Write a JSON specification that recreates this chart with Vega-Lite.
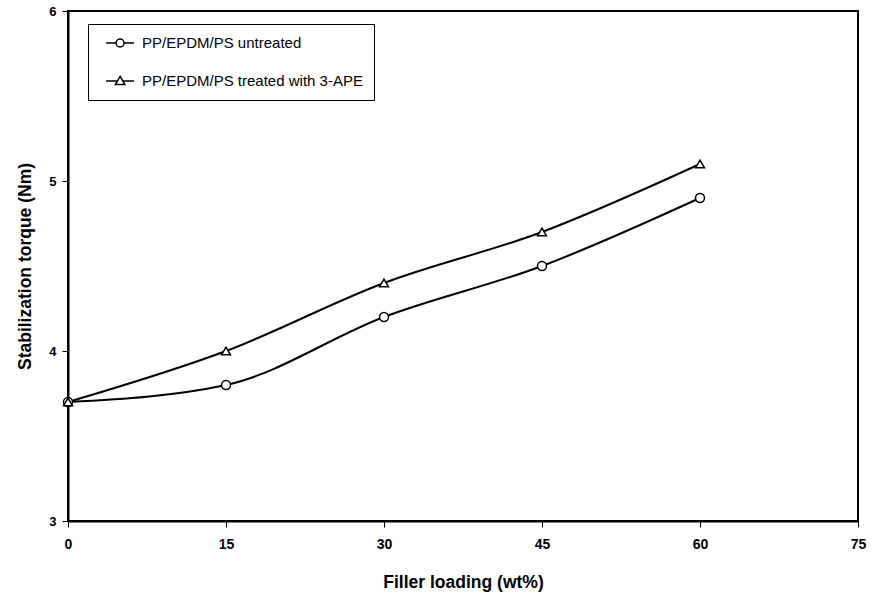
{
  "$schema": "https://vega.github.io/schema/vega-lite/v6.json",
  "autosize": "none",
  "width": 790,
  "height": 510,
  "padding": {"left": 68, "top": 11, "right": 15, "bottom": 71},
  "background": "white",
  "config": {
    "font": "Liberation Sans",
    "view": {"stroke": "black", "strokeWidth": 2},
    "axis": {
      "grid": false,
      "domainColor": "black",
      "domainWidth": 2,
      "tickColor": "black",
      "tickWidth": 1,
      "tickSize": 6,
      "labelFlush": false,
      "labelFont": "Liberation Sans",
      "labelFontWeight": "bold",
      "labelColor": "black",
      "titleFont": "Liberation Sans",
      "titleFontWeight": "bold",
      "titleFontSize": 17.5,
      "titleColor": "black"
    }
  },
  "data": {
    "values": [
      {"series": "PP/EPDM/PS untreated", "loading": 0, "torque": 3.7},
      {"series": "PP/EPDM/PS untreated", "loading": 15, "torque": 3.8},
      {"series": "PP/EPDM/PS untreated", "loading": 30, "torque": 4.2},
      {"series": "PP/EPDM/PS untreated", "loading": 45, "torque": 4.5},
      {"series": "PP/EPDM/PS untreated", "loading": 60, "torque": 4.9},
      {"series": "PP/EPDM/PS treated with 3-APE", "loading": 0, "torque": 3.7},
      {"series": "PP/EPDM/PS treated with 3-APE", "loading": 15, "torque": 4.0},
      {"series": "PP/EPDM/PS treated with 3-APE", "loading": 30, "torque": 4.4},
      {"series": "PP/EPDM/PS treated with 3-APE", "loading": 45, "torque": 4.7},
      {"series": "PP/EPDM/PS treated with 3-APE", "loading": 60, "torque": 5.1}
    ]
  },
  "encoding": {
    "x": {
      "field": "loading",
      "type": "quantitative",
      "scale": {"domain": [0, 75], "nice": false, "zero": false},
      "axis": {"values": [0, 15, 30, 45, 60, 75], "labelFontSize": 14, "labelPadding": 10, "title": "Filler loading (wt%)", "titlePadding": 22}
    },
    "y": {
      "field": "torque",
      "type": "quantitative",
      "scale": {"domain": [3, 6], "nice": false, "zero": false},
      "axis": {"values": [3, 4, 5, 6], "labelFontSize": 13, "labelPadding": 6, "title": "Stabilization torque (Nm)", "titlePadding": 14}
    }
  },
  "layer": [
    {
      "mark": {"type": "line", "interpolate": "monotone", "color": "black", "strokeWidth": 2},
      "encoding": {"detail": {"field": "series"}}
    },
    {
      "mark": {"type": "point", "filled": true, "fill": "white", "stroke": "black", "strokeWidth": 1.5, "size": 80, "opacity": 1},
      "encoding": {
        "shape": {
          "field": "series",
          "type": "nominal",
          "scale": {"domain": ["PP/EPDM/PS untreated", "PP/EPDM/PS treated with 3-APE"], "range": ["circle", "triangle-up"]},
          "legend": null
        }
      }
    },
    {
      "mark": {"type": "point", "filled": false, "color": "black", "strokeWidth": 1.5, "opacity": 0},
      "encoding": {
        "shape": {
          "field": "series",
          "type": "nominal",
          "scale": {
            "domain": ["PP/EPDM/PS untreated", "PP/EPDM/PS treated with 3-APE"],
            "range": [
              "M-0.13,0L1.3,0M2.44,0L3.87,0M2.44,0A0.57,0.57,0,1,1,1.3,0A0.57,0.57,0,1,1,2.44,0Z",
              "M-0.13,0L1.45,0M2.3,0L3.87,0M1.87,-0.65L2.55,0.5L1.19,0.5Z"
            ]
          },
          "legend": {
            "title": null,
            "orient": "none",
            "legendX": 20,
            "legendY": 13,
            "padding": 11,
            "strokeColor": "black",
            "fillColor": "white",
            "symbolSize": 196,
            "symbolStrokeColor": "black",
            "symbolStrokeWidth": 1.5,
            "symbolOpacity": 1,
            "labelFont": "Liberation Sans",
            "labelFontSize": 15,
            "labelColor": "black",
            "labelOffset": 27,
            "labelLimit": 400,
            "rowPadding": 22
          }
        }
      }
    }
  ],
  "resolve": {"scale": {"shape": "independent"}}
}
